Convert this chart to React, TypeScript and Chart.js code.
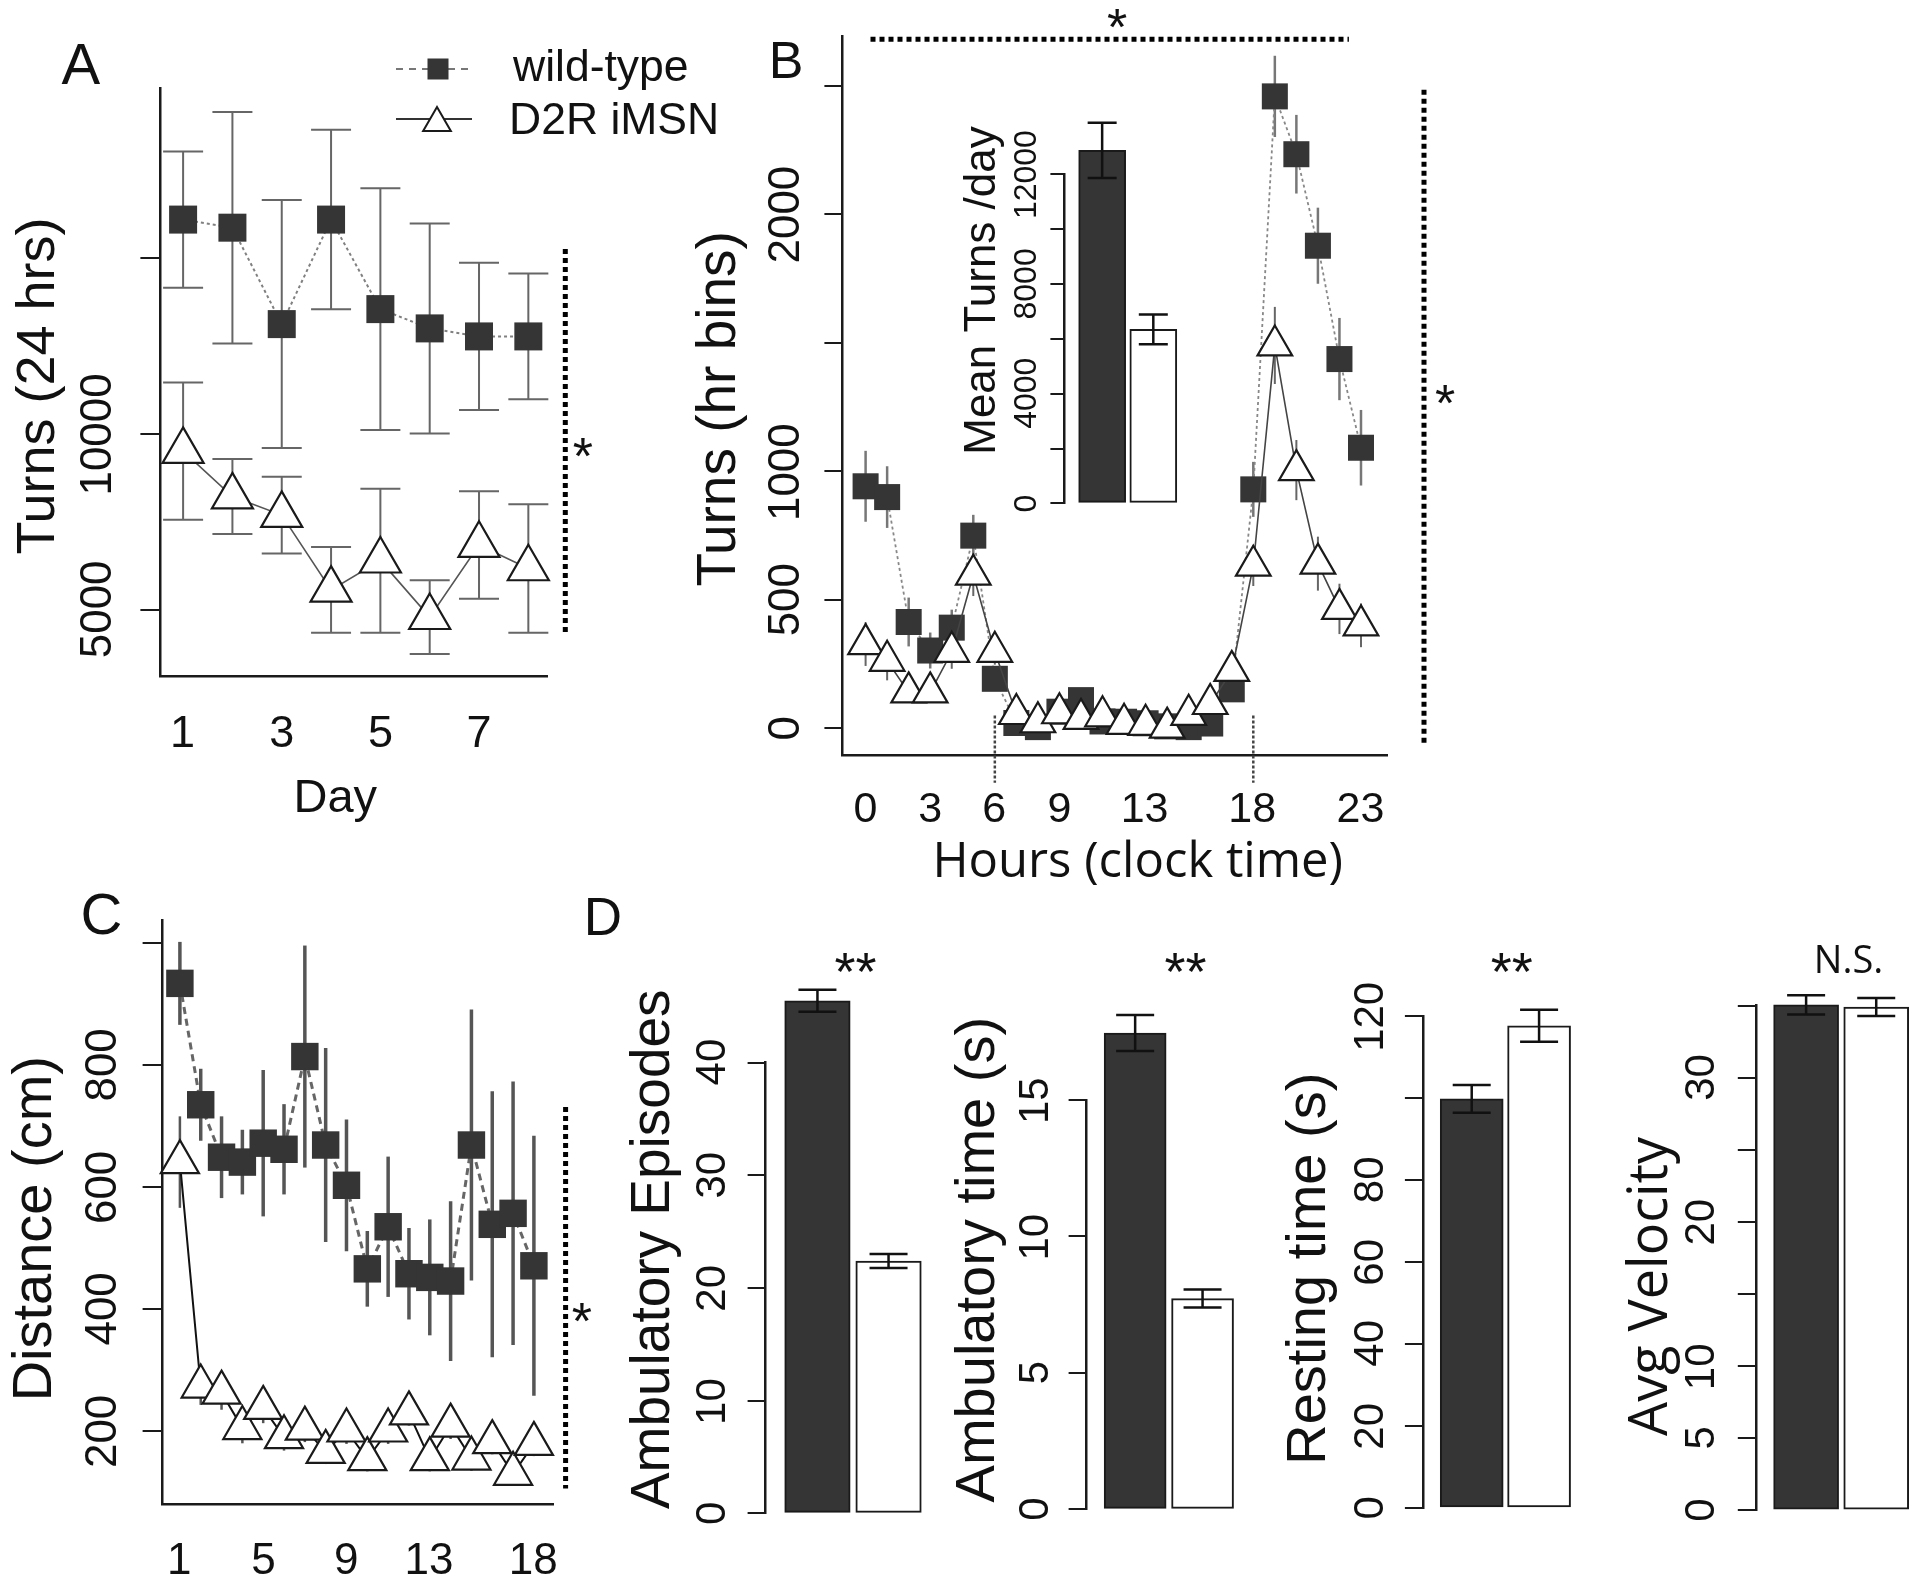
import React, { useEffect, useRef } from 'react';
import { Chart, registerables } from 'chart.js';

Chart.register(...registerables);

const PAGE_W = 1920;
const PAGE_H = 1591;
const SANS = "'Liberation Sans', Arial, Helvetica, sans-serif";
const SANS2 = "'Open Sans', 'Liberation Sans', sans-serif";
const INK = '#1a1a1a';
const WT_FILL = '#353535';
const Y_BOX = 30;

const SERIES = ['wild-type', 'D2R iMSN'];

// ---------- Panel A : turns per 24 h, by day ----------
const A_DAYS = [1, 2, 3, 4, 5, 6, 7, 8];
const A_WT = [16083, 15853, 13113, 16083, 13539, 12991, 12763, 12763];
const A_WT_SE = [1936, 3288, 3524, 2550, 3433, 2984, 2093, 1789];
const A_D2R = [9504, 8211, 7685, 5562, 6391, 4786, 6836, 6170];
const A_D2R_SE = [1948, 1066, 1088, 1218, 2046, 1050, 1530, 1827];
const A_X_TICKS = [1, 3, 5, 7];
const A_Y_TICKS = [5000, 10000, 15000];
const A_Y_LABELS = ['5000', '10000', ''];

// ---------- Panel B : turns per hour bin ----------
const B_HOURS = [0, 1, 2, 3, 4, 5, 6, 7, 8, 9, 10, 11, 12, 13, 14, 15, 16, 17, 18, 19, 20, 21, 22, 23];
const B_WT = [942, 900, 414, 303, 392, 750, 193, 21, 5, 65, 110, 27, 26, 20, 8, 5, 19, 152, 930, 2459, 2234, 1878, 1437, 1092];
const B_WT_SE = [138, 120, 95, 70, 70, 81, 30, 10, 10, 15, 15, 10, 10, 10, 10, 10, 15, 25, 107, 158, 153, 148, 160, 147];
const B_D2R = [328, 263, 140, 140, 298, 598, 298, 56, 24, 59, 37, 47, 18, 14, 3, 53, 95, 224, 633, 1490, 1005, 641, 465, 401];
const B_D2R_SE = [85, 76, 40, 40, 66, 83, 50, 15, 15, 15, 15, 15, 15, 15, 15, 15, 20, 40, 79, 150, 117, 105, 98, 85];
const B_X_TICKS = [0, 3, 6, 9, 13, 18, 23];
const B_Y_TICKS = [0, 500, 1000, 1500, 2000, 2500];
const B_Y_LABELS = ['0', '500', '1000', '', '2000', ''];
const B_LIGHT_CHANGE_HOURS = [6, 18];

// ---------- Inset of B : mean turns per day ----------
const GROUP_POS = [1, 2];
const INSET_MEAN = [12860, 6340];
const INSET_SE = [1010, 540];
const INSET_Y_TICKS = [0, 2000, 4000, 6000, 8000, 10000, 12000];
const INSET_Y_LABELS = ['0', '', '4000', '', '8000', '', '12000'];

// ---------- Panel C : distance by day ----------
const C_DAYS = [1, 2, 3, 4, 5, 6, 7, 8, 9, 10, 11, 12, 13, 14, 15, 16, 17, 18];
const C_WT = [934, 735, 649, 641, 672, 662, 814, 669, 603, 466, 535, 458, 452, 446, 669, 539, 557, 471];
const C_WT_SE = [68, 59, 67, 53, 120, 74, 182, 159, 108, 62, 115, 75, 95, 131, 222, 218, 216, 213];
const C_D2R = [641, 273, 263, 205, 238, 190, 204, 166, 201, 154, 201, 229, 154, 209, 155, 182, 130, 179];
const C_D2R_SE = [75, 30, 28, 25, 25, 22, 22, 20, 22, 20, 22, 20, 20, 22, 20, 20, 18, 20];
const C_X_TICKS = [1, 5, 9, 13, 18];
const C_Y_TICKS = [200, 400, 600, 800, 1000];
const C_Y_LABELS = ['200', '400', '600', '800', ''];

// ---------- Panel D : open field bars ----------
const D1_MEAN = [45.5, 22.4];
const D1_SE = [0.98, 0.63];
const D1_TICKS = [0, 10, 20, 30, 40];
const D1_LABELS = ['0', '10', '20', '30', '40'];
const D2_MEAN = [17.45, 7.72];
const D2_SE = [0.66, 0.33];
const D2_TICKS = [0, 5, 10, 15];
const D2_LABELS = ['0', '5', '10', '15'];
const D3_MEAN = [99.8, 117.6];
const D3_SE = [3.4, 3.9];
const D3_TICKS = [0, 20, 40, 60, 80, 100, 120];
const D3_LABELS = ['0', '20', '40', '60', '80', '', '120'];
const D4_MEAN = [35.05, 34.9];
const D4_SE = [0.66, 0.63];
const D4_TICKS = [0, 5, 10, 15, 20, 25, 30, 35];
const D4_LABELS = ['0', '5', '10', '', '20', '', '30', ''];

// ---------------------------------------------------------------
type Area = { left: number; top: number; right: number; bottom: number };
type TextItem = { text: string; x: number; y: number; size: number; family?: string; rotate?: boolean; align?: 'left' | 'center'; color?: string };
type LineItem = { x1: number; y1: number; x2: number; y2: number; width: number; dash: number[]; color: string };
type ErrSpec = { dataset: number; se: number[]; cap: number; color: string; width: number; front?: boolean };
type Spec = {
  errors?: ErrSpec[];
  yLabels?: { x: number; size: number; labels: string[] };
  xLabels?: { y: number; size: number; labels: string[] };
  texts?: TextItem[];
  lines?: LineItem[];
  marks?: { values: number[]; fromValue: number; below: number; color: string; width: number; dash: number[] };
  legend?: boolean;
};

function drawText(ctx: CanvasRenderingContext2D, t: TextItem) {
  ctx.save();
  ctx.font = `${t.size}px ${t.family || SANS}`;
  ctx.fillStyle = t.color || '#111';
  ctx.textAlign = 'left';
  ctx.textBaseline = 'alphabetic';
  const m = ctx.measureText(t.text);
  const L = m.actualBoundingBoxLeft;
  const R = m.actualBoundingBoxRight;
  const A = m.actualBoundingBoxAscent;
  const D = m.actualBoundingBoxDescent;
  ctx.translate(t.x, t.y);
  if (t.rotate) ctx.rotate(-Math.PI / 2);
  const dx = t.align === 'left' ? L : -(R - L) / 2;
  const dy = (A - D) / 2;
  ctx.fillText(t.text, dx, dy);
  ctx.restore();
}

function drawLine(ctx: CanvasRenderingContext2D, l: LineItem) {
  ctx.save();
  ctx.strokeStyle = l.color;
  ctx.lineWidth = l.width;
  ctx.setLineDash(l.dash);
  ctx.beginPath();
  ctx.moveTo(l.x1, l.y1);
  ctx.lineTo(l.x2, l.y2);
  ctx.stroke();
  ctx.restore();
}

function drawErrors(chart: any, spec: Spec, front: boolean) {
  const ctx = chart.ctx;
  const ys = chart.scales.y;
  (spec.errors || []).filter((e) => !!e.front === front).forEach((e) => {
    const meta = chart.getDatasetMeta(e.dataset);
    const ds = chart.data.datasets[e.dataset];
    ctx.save();
    ctx.strokeStyle = e.color;
    ctx.lineWidth = e.width;
    ctx.setLineDash([]);
    meta.data.forEach((el: any, i: number) => {
      const v = ds.data[i].y;
      const hi = ys.getPixelForValue(v + e.se[i]);
      const lo = ys.getPixelForValue(v - e.se[i]);
      const x = el.x;
      ctx.beginPath();
      ctx.moveTo(x, hi);
      ctx.lineTo(x, lo);
      if (e.cap > 0) {
        ctx.moveTo(x - e.cap / 2, hi);
        ctx.lineTo(x + e.cap / 2, hi);
        ctx.moveTo(x - e.cap / 2, lo);
        ctx.lineTo(x + e.cap / 2, lo);
      }
      ctx.stroke();
    });
    ctx.restore();
  });
}

function drawLegend(ctx: CanvasRenderingContext2D) {
  const x1 = 396, x2 = 472, mx = 438, tx = 512;
  const yWt = 69, yD2 = 119;
  ctx.save();
  // wild-type row
  ctx.strokeStyle = '#777';
  ctx.lineWidth = 2;
  ctx.setLineDash([7, 6]);
  ctx.beginPath();
  ctx.moveTo(x1, yWt);
  ctx.lineTo(x2, yWt);
  ctx.stroke();
  ctx.setLineDash([]);
  ctx.fillStyle = WT_FILL;
  ctx.fillRect(mx - 10.5, yWt - 10.5, 21, 21);
  // D2R row
  ctx.strokeStyle = '#333';
  ctx.lineWidth = 2;
  ctx.beginPath();
  ctx.moveTo(x1, yD2);
  ctx.lineTo(x2, yD2);
  ctx.stroke();
  const r = 16;
  const cy = yD2 + 4;
  ctx.beginPath();
  ctx.moveTo(mx - 1, cy - r);
  ctx.lineTo(mx - 1 + 0.866 * r, cy + r / 2);
  ctx.lineTo(mx - 1 - 0.866 * r, cy + r / 2);
  ctx.closePath();
  ctx.fillStyle = '#fff';
  ctx.fill();
  ctx.strokeStyle = INK;
  ctx.lineWidth = 2;
  ctx.stroke();
  ctx.restore();
  drawText(ctx, { text: SERIES[0], x: tx, y: 69.6, size: 44.5, align: 'left' });
  drawText(ctx, { text: SERIES[1], x: tx, y: 118, size: 44.5, align: 'left' });
}

function makePlugin(spec: Spec) {
  return {
    id: 'figure',
    beforeDatasetsDraw(chart: any) {
      const ctx = chart.ctx;
      if (spec.marks) {
        const mk = spec.marks;
        const xs = chart.scales.x;
        const ys = chart.scales.y;
        mk.values.forEach((v) => {
          const x = xs.getPixelForValue(v);
          drawLine(ctx, { x1: x, y1: ys.getPixelForValue(mk.fromValue), x2: x, y2: chart.chartArea.bottom + mk.below, width: mk.width, dash: mk.dash, color: mk.color });
        });
      }
      drawErrors(chart, spec, false);
    },
    afterDatasetsDraw(chart: any) {
      drawErrors(chart, spec, true);
    },
    afterDraw(chart: any) {
      const ctx = chart.ctx;
      if (spec.yLabels) {
        const yl = spec.yLabels;
        const s = chart.scales.y;
        s.ticks.forEach((t: any, i: number) => {
          const lab = yl.labels[i];
          if (!lab) return;
          drawText(ctx, { text: lab, x: yl.x, y: s.getPixelForValue(t.value), size: yl.size, rotate: true });
        });
      }
      if (spec.xLabels) {
        const xl = spec.xLabels;
        const s = chart.scales.x;
        s.ticks.forEach((t: any, i: number) => {
          const lab = xl.labels[i];
          if (!lab) return;
          drawText(ctx, { text: lab, x: s.getPixelForValue(t.value), y: xl.y, size: xl.size });
        });
      }
      (spec.lines || []).forEach((l) => drawLine(ctx, l));
      (spec.texts || []).forEach((t) => drawText(ctx, t));
      if (spec.legend) drawLegend(ctx);
    },
  };
}

function xAxis(range: number[], ticks: number[], visible: boolean) {
  return {
    type: 'linear',
    position: 'bottom',
    display: visible,
    min: range[0],
    max: range[1],
    bounds: 'data',
    offset: false,
    afterBuildTicks: (s: any) => { s.ticks = ticks.map((v) => ({ value: v })); },
    afterFit: (s: any) => { s.height = 0; },
    ticks: { display: false },
    grid: { display: false, drawTicks: false, offset: false },
    border: { display: visible, color: INK, width: 2.5 },
  };
}

function yAxis(range: number[], ticks: number[], tickLen: number) {
  return {
    type: 'linear',
    position: 'left',
    min: range[0],
    max: range[1],
    bounds: 'data',
    afterBuildTicks: (s: any) => { s.ticks = ticks.map((v) => ({ value: v })); },
    afterFit: (s: any) => { s.width = Y_BOX; },
    ticks: { display: false },
    grid: { display: true, drawOnChartArea: false, drawTicks: true, tickLength: tickLen, tickWidth: 2, tickColor: INK, lineWidth: 2, color: INK },
    border: { display: true, color: INK, width: 2.5 },
  };
}

function baseOptions(area: Area) {
  return {
    responsive: false,
    animation: false,
    devicePixelRatio: 1,
    events: [],
    layout: { padding: { left: area.left - Y_BOX, top: area.top, right: PAGE_W - area.right, bottom: PAGE_H - area.bottom } },
    plugins: { legend: { display: false }, tooltip: { enabled: false }, title: { display: false } },
  };
}

type LineStyle = { sq: number; tri: number; wtLine: string; wtW: number; wtDash: number[]; d2Line: string; d2W: number };

function lineDatasets(xs: number[], wt: number[], d2r: number[], st: LineStyle) {
  return [
    {
      label: SERIES[0],
      data: xs.map((x, i) => ({ x, y: wt[i] })),
      order: 2,
      borderColor: st.wtLine,
      borderWidth: st.wtW,
      borderDash: st.wtDash,
      pointStyle: 'rect',
      pointRadius: st.sq,
      pointBackgroundColor: WT_FILL,
      pointBorderColor: WT_FILL,
      pointBorderWidth: 0,
      fill: false,
      tension: 0,
      clip: false,
    },
    {
      label: SERIES[1],
      data: xs.map((x, i) => ({ x, y: d2r[i] })),
      order: 1,
      borderColor: st.d2Line,
      borderWidth: st.d2W,
      pointStyle: 'triangle',
      pointRadius: st.tri,
      pointBackgroundColor: '#ffffff',
      pointBorderColor: INK,
      pointBorderWidth: 2.2,
      fill: false,
      tension: 0,
      clip: false,
    },
  ];
}

function linePanel(area: Area, xr: number[], yr: number[], xTicks: number[], yTicks: number[], tickLen: number, datasets: any[], spec: Spec) {
  return {
    type: 'line',
    data: { datasets },
    options: { ...baseOptions(area), scales: { x: xAxis(xr, xTicks, true), y: yAxis(yr, yTicks, tickLen) } },
    plugins: [makePlugin(spec)],
  };
}

function barPanel(area: Area, xr: number[], yr: number[], yTicks: number[], tickLen: number, means: number[], thickness: number, spec: Spec) {
  return {
    type: 'bar',
    data: {
      datasets: [
        {
          label: SERIES.join(' / '),
          data: GROUP_POS.map((x, i) => ({ x, y: means[i] })),
          backgroundColor: [WT_FILL, '#ffffff'],
          borderColor: INK,
          borderWidth: 2,
          borderSkipped: false,
          barThickness: thickness,
          clip: false,
        },
      ],
    },
    options: { ...baseOptions(area), scales: { x: xAxis(xr, [], false), y: yAxis(yr, yTicks, tickLen) } },
    plugins: [makePlugin(spec)],
  };
}

const DOT = { width: 5, dash: [5, 4], color: '#000' };

function buildConfigs(): any[] {
  const cfgA = linePanel(
    { left: 160.4, top: 88.4, right: 547.4, bottom: 676 },
    [0.5397, 8.3865], [3113, 19811], A_X_TICKS, A_Y_TICKS, 20,
    lineDatasets(A_DAYS, A_WT, A_D2R, { sq: 19.8, tri: 23.7, wtLine: '#808080', wtW: 2, wtDash: [3, 3], d2Line: '#555', d2W: 1.6 }),
    {
      errors: [
        { dataset: 0, se: A_WT_SE, cap: 40, color: '#666', width: 2 },
        { dataset: 1, se: A_D2R_SE, cap: 40, color: '#666', width: 2 },
      ],
      yLabels: { x: 95.6, size: 44, labels: A_Y_LABELS },
      xLabels: { y: 731, size: 45, labels: A_X_TICKS.map(String) },
      texts: [
        { text: 'A', x: 81, y: 63.7, size: 58 },
        { text: 'Turns (24 hrs)', x: 40, y: 387, size: 54, rotate: true },
        { text: 'Day', x: 337, y: 801, size: 47 },
        { text: '*', x: 582.8, y: 447, size: 52 },
      ],
      lines: [{ x1: 565.3, y1: 249, x2: 565.3, y2: 633.8, ...DOT }],
      legend: true,
    },
  );

  const cfgB = linePanel(
    { left: 842.4, top: 36.5, right: 1387.7, bottom: 754.8 },
    [-1.077, 24.24], [-102.7, 2692], B_X_TICKS, B_Y_TICKS, 18,
    lineDatasets(B_HOURS, B_WT, B_D2R, { sq: 18.4, tri: 20, wtLine: '#888', wtW: 1.8, wtDash: [3, 3], d2Line: '#444', d2W: 1.6 }),
    {
      errors: [
        { dataset: 0, se: B_WT_SE, cap: 0, color: '#777', width: 2.5 },
        { dataset: 1, se: B_D2R_SE, cap: 0, color: '#666', width: 2 },
      ],
      marks: { values: B_LIGHT_CHANGE_HOURS, fromValue: 50, below: 28, color: '#444', width: 2.5, dash: [3, 2] },
      yLabels: { x: 783, size: 44, labels: B_Y_LABELS },
      xLabels: { y: 807, size: 43, labels: B_X_TICKS.map(String) },
      texts: [
        { text: 'B', x: 786.7, y: 60.3, size: 52 },
        { text: 'Turns (hr bins)', x: 721, y: 410, size: 55, rotate: true },
        { text: 'Hours (clock time)', x: 1139, y: 862, size: 49, family: SANS2 },
        { text: '*', x: 1117, y: 18, size: 52 },
        { text: '*', x: 1445, y: 394, size: 52 },
      ],
      lines: [
        { x1: 870.5, y1: 39.3, x2: 1348.9, y2: 39.3, ...DOT },
        { x1: 1424, y1: 89.8, x2: 1424, y2: 746.4, ...DOT },
      ],
    },
  );

  const cfgInset = barPanel(
    { left: 1064.4, top: 174, right: 1184, bottom: 503.4 },
    [0.262, 2.6], [0, 12000], INSET_Y_TICKS, 14, INSET_MEAN, 47,
    {
      errors: [{ dataset: 0, se: INSET_SE, cap: 29, color: '#111', width: 2.5, front: true }],
      yLabels: { x: 1025.3, size: 32, labels: INSET_Y_LABELS },
      texts: [{ text: 'Mean Turns /day', x: 983, y: 289, size: 44, rotate: true }],
    },
  );

  const cfgC = linePanel(
    { left: 162.6, top: 920.6, right: 553, bottom: 1504.3 },
    [0.1692, 18.917], [80, 1036.9], C_X_TICKS, C_Y_TICKS, 20,
    lineDatasets(C_DAYS, C_WT, C_D2R, { sq: 19.4, tri: 22, wtLine: '#666', wtW: 3, wtDash: [7, 5], d2Line: '#111', d2W: 2 }),
    {
      errors: [
        { dataset: 0, se: C_WT_SE, cap: 0, color: '#555', width: 3.5 },
        { dataset: 1, se: C_D2R_SE, cap: 0, color: '#555', width: 2.5 },
      ],
      yLabels: { x: 100.5, size: 44, labels: C_Y_LABELS },
      xLabels: { y: 1558, size: 44, labels: C_X_TICKS.map(String) },
      texts: [
        { text: 'C', x: 101.4, y: 913.6, size: 58 },
        { text: 'Distance (cm)', x: 37.3, y: 1228, size: 56, rotate: true },
        { text: '*', x: 581.7, y: 1312, size: 52 },
      ],
      lines: [{ x1: 565.6, y1: 1107, x2: 565.6, y2: 1488.4, ...DOT }],
    },
  );

  const barErr = (se: number[]) => [{ dataset: 0, se, cap: 38, color: '#111', width: 2.5, front: true }];

  const cfgD1 = barPanel(
    { left: 765.6, top: 1062.7, right: 931.2, bottom: 1513.4 },
    [0.2707, 2.6], [0, 40], D1_TICKS, 18, D1_MEAN, 65.5,
    {
      errors: barErr(D1_SE),
      yLabels: { x: 710.1, size: 42, labels: D1_LABELS },
      texts: [
        { text: 'D', x: 603.8, y: 916.2, size: 53 },
        { text: 'Ambulatory Episodes', x: 654.8, y: 1250, size: 55, rotate: true },
        { text: '**', x: 855.4, y: 962, size: 54 },
      ],
    },
  );

  const cfgD2 = barPanel(
    { left: 1086.6, top: 1099.9, right: 1243.0, bottom: 1509.3 },
    [0.2797, 2.6], [0, 15], D2_TICKS, 18, D2_MEAN, 62,
    {
      errors: barErr(D2_SE),
      yLabels: { x: 1033.2, size: 42, labels: D2_LABELS },
      texts: [
        { text: 'Ambulatory time (s)', x: 980, y: 1261, size: 56, rotate: true },
        { text: '**', x: 1185.5, y: 962, size: 54 },
      ],
    },
  );

  const cfgD3 = barPanel(
    { left: 1422.9, top: 1016, right: 1579.5, bottom: 1508 },
    [0.2754, 2.6], [0, 120], D3_TICKS, 18, D3_MEAN, 63,
    {
      errors: barErr(D3_SE),
      yLabels: { x: 1368.4, size: 42, labels: D3_LABELS },
      texts: [
        { text: 'Resting time (s)', x: 1311, y: 1268, size: 56, rotate: true },
        { text: '**', x: 1511.7, y: 962, size: 54 },
      ],
    },
  );

  const cfgD4 = barPanel(
    { left: 1755.8, top: 1005.6, right: 1918.3, bottom: 1510.2 },
    [0.2825, 2.6], [0, 35], D4_TICKS, 18, D4_MEAN, 65,
    {
      errors: barErr(D4_SE),
      yLabels: { x: 1699.8, size: 42, labels: D4_LABELS },
      texts: [
        { text: 'Avg Velocity', x: 1652.6, y: 1286, size: 54, rotate: true, family: SANS2 },
        { text: 'N.S.', x: 1849, y: 959.3, size: 38, family: SANS2 },
      ],
    },
  );

  return [cfgA, cfgB, cfgInset, cfgC, cfgD1, cfgD2, cfgD3, cfgD4];
}

const N_CHARTS = 8;

export default function App() {
  const refs = useRef<(HTMLCanvasElement | null)[]>([]);

  useEffect(() => {
    const configs = buildConfigs();
    const charts = configs.map((cfg, i) => new Chart(refs.current[i] as HTMLCanvasElement, cfg as any));
    return () => {
      charts.forEach((c) => c.destroy());
    };
  }, []);

  return (
    <div style={{ position: 'absolute', left: 0, top: 0, width: PAGE_W, height: PAGE_H, background: '#ffffff', overflow: 'hidden' }}>
      {Array.from({ length: N_CHARTS }).map((_, i) => (
        <canvas
          key={i}
          ref={(el) => {
            refs.current[i] = el;
          }}
          width={PAGE_W}
          height={PAGE_H}
          style={{ position: 'absolute', left: 0, top: 0 }}
        />
      ))}
    </div>
  );
}
